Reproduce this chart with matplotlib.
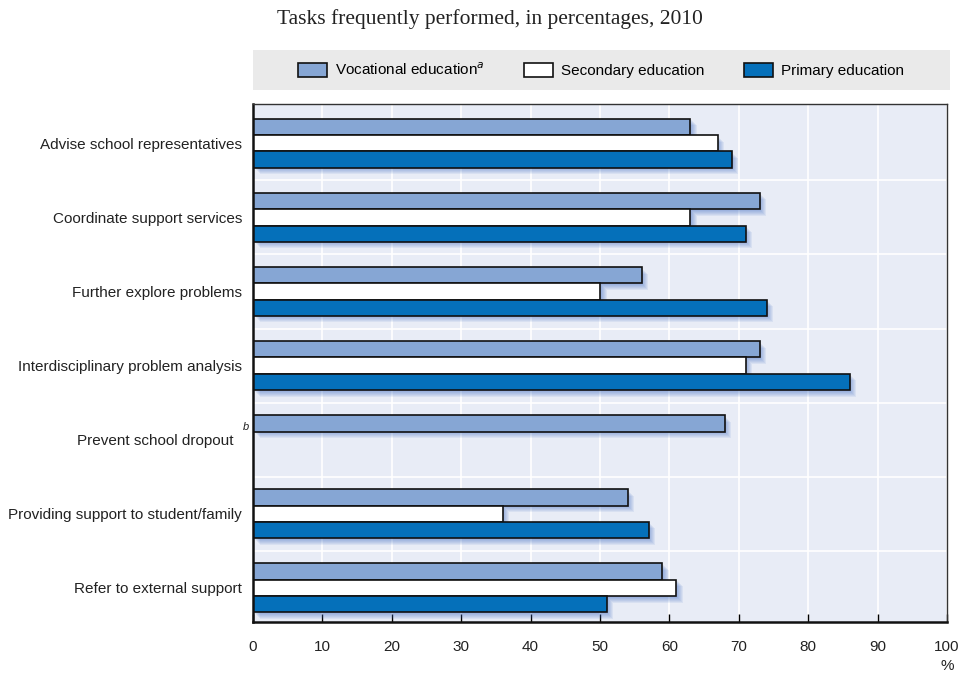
import numpy as np
import matplotlib.pyplot as plt
from matplotlib.patches import Rectangle
from matplotlib.transforms import offset_copy, blended_transform_factory

plt.rcParams['font.family'] = ['Liberation Sans', 'DejaVu Sans']

# Data
tasks = [
    "Advise school representatives",
    "Coordinate support services",
    "Further explore problems",
    "Interdisciplinary problem analysis",
    "Prevent school dropout",
    "Providing support to student/family",
    "Refer to external support",
]
vocational = [63, 73, 56, 73, 68, 54, 59]
secondary = [67, 63, 50, 71, np.nan, 36, 61]
primary = [69, 71, 74, 86, np.nan, 57, 51]

series_names = ["Vocational education$^{\\mathit{a}}$", "Secondary education", "Primary education"]
series_colors = ["#86A6D4", "#FFFFFF", "#0570BA"]

fig = plt.figure(figsize=(9.69, 6.76), dpi=100)
ax = fig.add_axes([253 / 969, 1 - 622 / 676, 694 / 969, 518 / 676])
ax.set_facecolor("#E8ECF6")

h = 0.22
y = np.arange(len(tasks))
series = [vocational, secondary, primary]

# soft blue shadows behind each bar
for k in range(6):
    tr = offset_copy(ax.transData, fig=fig, x=1.5 + k, y=-(1.5 + k), units='dots')
    for j, vals in enumerate(series):
        ax.barh(y + (j - 1) * h, vals, height=h, color="#3E6CC4", alpha=0.09,
                linewidth=0, transform=tr, zorder=1)

for j, vals in enumerate(series):
    ax.barh(y + (j - 1) * h, vals, height=h, color=series_colors[j],
            edgecolor="#111111", linewidth=1.2, zorder=3, label=series_names[j])

ax.set_xlim(0, 100)
ax.set_ylim(len(tasks) - 0.54, -0.53)
ax.set_xticks(np.arange(0, 101, 10))
ax.set_yticks(y)
# extra room after the dropout label for its footnote marker
ax.set_yticklabels(tasks[:4] + [tasks[4] + "  "] + tasks[5:])
ax.set_yticks(y[:-1] + 0.5, minor=True)

ax.grid(axis='x', color='white', linewidth=1.2, zorder=0)
ax.grid(axis='y', which='minor', color='white', linewidth=1.2, zorder=0)
ax.set_axisbelow(True)

ax.tick_params(axis='y', which='both', length=0, pad=8, labelsize=11, labelcolor="#222222")
ax.tick_params(axis='x', direction='in', length=6, width=1, pad=13, labelsize=11,
               labelcolor="#222222")

for side in ['left', 'bottom']:
    ax.spines[side].set_linewidth(1.8)
    ax.spines[side].set_color("#111111")
for side in ['top', 'right']:
    ax.spines[side].set_linewidth(1.0)
    ax.spines[side].set_color("#333333")
for sp in ax.spines.values():
    sp.set_zorder(5)

# footnote marker on the dropout label
trb = blended_transform_factory(ax.transAxes, ax.transData)
ax.text(-0.010, 4 - 0.17, "b", transform=trb, fontsize=8, style='italic',
        ha='center', va='center', color="#222222")

ax.text(1.0, -0.085, "%", transform=ax.transAxes, fontsize=11, ha='center',
        va='center', color="#222222")

# title and legend band
fig.text(490 / 969, 1 - 19 / 676, "Tasks frequently performed, in percentages, 2010",
         family='Liberation Serif', fontsize=15.5, ha='center', va='center', color="#222222")

fig.patches.append(Rectangle((253 / 969, 1 - 90 / 676), 697 / 969, 40 / 676,
                             transform=fig.transFigure, facecolor="#EAEAEA",
                             edgecolor='none', zorder=0))
fig.legend(loc='center', bbox_to_anchor=(601 / 969, 1 - 70 / 676), ncol=3,
           frameon=False, fontsize=11, handlelength=1.9, handleheight=1.1,
           columnspacing=2.6, handletextpad=0.5)

fig.savefig("out.png", dpi=100)
